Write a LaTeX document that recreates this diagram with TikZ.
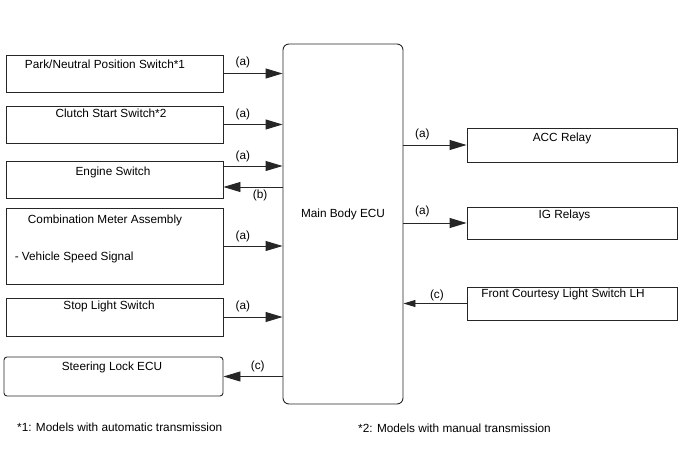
\documentclass[tikz,border=0pt]{standalone}
\usepackage{fontspec}
\setmainfont{Liberation Sans}
\usetikzlibrary{arrows.meta,calc,positioning}
\begin{document}
\begin{tikzpicture}[x=1pt,y=-1pt,
        unit/.style={draw=black!85, line width=0.9pt, minimum width=217pt, inner sep=0pt},
        ecuunit/.style={draw=black!85, line width=0.9pt, rounded corners=6pt, minimum width=120pt, minimum height=360pt, inner sep=0pt},
        relay/.style={draw=black!85, line width=0.9pt, minimum width=210pt, inner sep=0pt},
        txt/.style={anchor=base, inner sep=0pt, font=\fontsize{11.8}{14}\selectfont},
        tag/.style={inner sep=1pt, font=\fontsize{11.8}{14}\selectfont},
        sig/.style={-{Triangle[length=17pt,width=10pt]}, draw=black!85, line width=0.9pt},
        sigsmall/.style={-{Triangle[length=12pt,width=7pt]}, draw=black!85, line width=0.9pt}
      ]
      \useasboundingbox (0,0) rectangle (688,463);
      % left side units
      \node[unit, minimum height=37pt] (park) at (114.5,73.5) {};
      \node[unit, minimum height=37pt] (clutch) at (114.5,124.5) {};
      \node[unit, minimum height=37pt] (engine) at (114.5,179.5) {};
      \node[unit, minimum height=76pt] (combo) at (114.5,246) {};
      \node[unit, minimum height=38pt] (stop) at (114.5,317) {};
      \node[unit, minimum width=219pt, minimum height=39pt, rounded corners=3pt] (steer) at (113.5,376.5) {};
      % main body ecu
      \node[ecuunit] (ecu) at (343,224) {};
      % right side units
      \node[relay, minimum height=34pt] (acc) at (572,145) {};
      \node[relay, minimum height=32pt] (ig) at (572,223) {};
      \node[relay, minimum height=33pt] (front) at (572,303.5) {};
      % texts
      \node[txt] (parkText) at ($(park.north)+(-9.5,14)$) {Park/Neutral Position Switch*1};
      \node[txt] (clutchText) at ($(clutch.north)+(-3.5,12)$) {Clutch Start Switch*2};
      \node[txt] (engineText) at ($(engine.north)+(-1.5,15)$) {Engine Switch};
      \node[txt] (comboText) at ($(combo.north)+(-9.5,16)$) {Combination Meter Assembly};
      \node[txt, anchor=base west] (speedText) at ($(combo.west)+(9,14)$) {- Vehicle Speed Signal};
      \node[txt] (stopText) at ($(stop.north)+(-5.5,12)$) {Stop Light Switch};
      \node[txt] (steerText) at ($(steer.north)+(-1.5,14)$) {Steering Lock ECU};
      \node[txt] (ecuText) at ($(ecu.center)+(0,-7)$) {Main Body ECU};
      \node[txt] (accText) at ($(acc.north)+(-10,14)$) {ACC Relay};
      \node[txt] (igText) at ($(ig.north)+(-7.5,12)$) {IG Relays};
      \node[txt] (frontText) at ($(front.north)+(-9,11)$) {Front Courtesy Light Switch LH};
      \node[txt, anchor=base west] (noteOne) at (17,431) {*1: Models with automatic transmission};
      \node[txt, anchor=base west] (noteTwo) at (358,432) {*2: Models with manual transmission};
      % connectors
      \coordinate (engIn) at ($(engine.east)+(0,-13.5)$);
      \coordinate (engOut) at ($(engine.east)+(0,7.5)$);
      \draw[sig] (park.east) -- node[tag, pos=0.33, above=4pt] {(a)} (park.east -| ecu.west);
      \draw[sig] (clutch.east) -- node[tag, pos=0.33, above=3pt] {(a)} (clutch.east -| ecu.west);
      \draw[sig] (engIn) -- node[tag, pos=0.33, above=3pt] {(a)} (engIn -| ecu.west);
      \draw[sig] (engOut -| ecu.west) -- node[tag, pos=0.38, below=1pt] {(b)} (engOut);
      \draw[sig] (combo.east) -- node[tag, pos=0.33, above=3pt] {(a)} (combo.east -| ecu.west);
      \draw[sig] (stop.east) -- node[tag, pos=0.33, above=4pt] {(a)} (stop.east -| ecu.west);
      \draw[sig] (steer.east -| ecu.west) -- node[tag, pos=0.42, above=3pt] {(c)} (steer.east);
      \draw[sig] (acc.west -| ecu.east) -- node[tag, pos=0.3, above=4pt] {(a)} (acc.west);
      \draw[sig] (ig.west -| ecu.east) -- node[tag, pos=0.3, above=5pt] {(a)} (ig.west);
      \draw[sigsmall] (front.west) -- node[tag, pos=0.47, above=1pt] {(c)} (front.west -| ecu.east);
    \end{tikzpicture}
\end{document}
